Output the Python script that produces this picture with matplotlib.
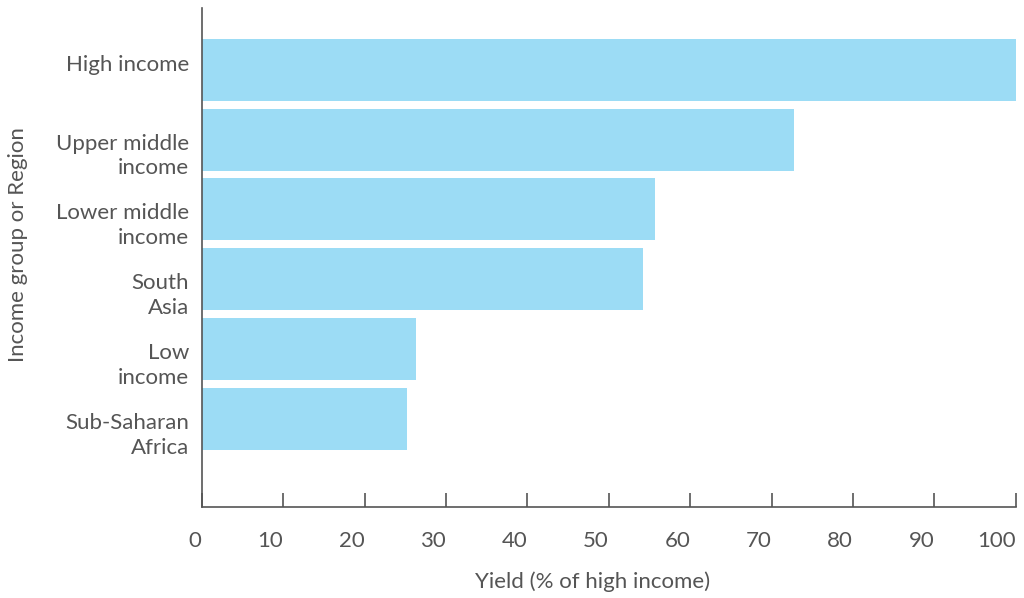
import matplotlib.pyplot as plt
import matplotlib.transforms as mtransforms

# donnees
groupes = ["High income", "Upper middle\nincome", "Lower middle\nincome",
           "South\nAsia", "Low\nincome", "Sub-Saharan\nAfrica"]
rendement = [100, 72.7, 55.7, 54.2, 26.3, 25.2]
graduations = [0, 10, 20, 30, 40, 50, 60, 70, 80, 90, 100]

gris = "#555555"
plt.rcParams["font.family"] = ["Lato", "DejaVu Sans"]

fig = plt.figure(figsize=(10.24, 5.98), dpi=100)
ax = fig.add_axes([0.197, 0.152, 0.795, 0.835])

positions = list(range(len(groupes)))
ax.barh(positions, rendement, height=0.886, color="#9cdcf5")

ax.set_ylim(6.26, -0.886)
ax.set_xlim(0, 100)
ax.set_yticks(positions)
ax.set_yticklabels(groupes, fontsize=16, color=gris, linespacing=1.3)
ax.tick_params(axis="y", length=0, pad=9)
ax.set_xticks(graduations)
ax.set_xticklabels([str(g) for g in graduations], fontsize=16, color=gris, ha="right")
ax.tick_params(axis="x", direction="in", length=10, width=1.2, color=gris, pad=17)

# petit decalage vertical des etiquettes comme dans l'original
for etiquette in ax.get_yticklabels():
    dy = -12 if "\n" in etiquette.get_text() else 7
    decalage = mtransforms.ScaledTranslation(0, dy / 100, fig.dpi_scale_trans)
    etiquette.set_transform(etiquette.get_transform() + decalage)

for cote in ["top", "right"]:
    ax.spines[cote].set_visible(False)
for cote in ["left", "bottom"]:
    ax.spines[cote].set_color(gris)
    ax.spines[cote].set_linewidth(1.2)

ax.set_xlabel("Yield (% of high income)", fontsize=16, color=gris)
ax.xaxis.set_label_coords(0.48, -0.128)
ax.set_ylabel("Income group or Region", fontsize=16, color=gris)
ax.yaxis.set_label_coords(-0.214, 0.525)

fig.savefig("out.png", dpi=100)
